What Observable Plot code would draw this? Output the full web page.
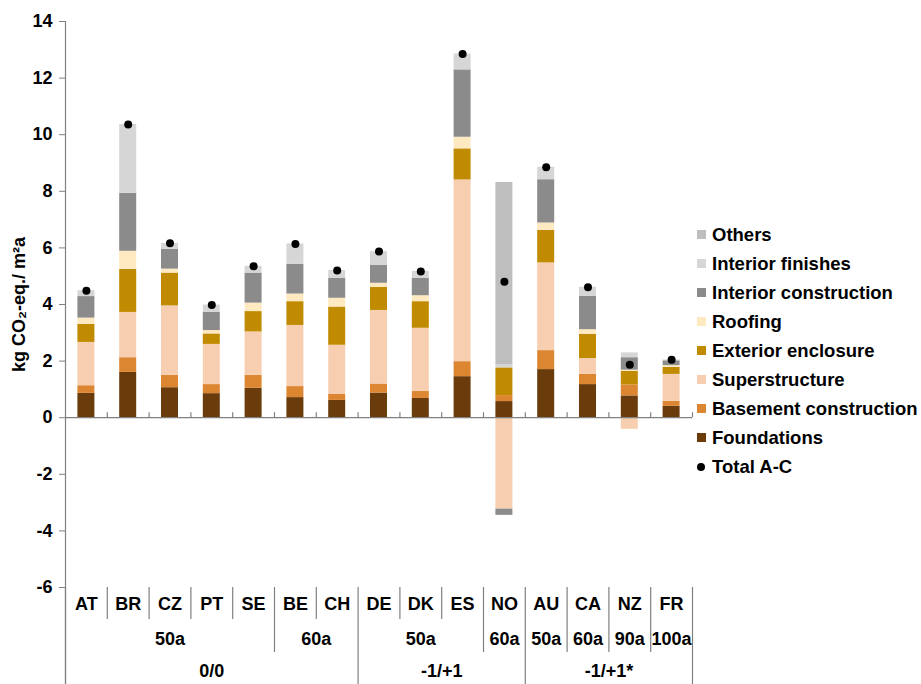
<!DOCTYPE html>
<html><head><meta charset="utf-8">
<script src="https://cdn.jsdelivr.net/npm/d3@7"></script>
<script src="https://cdn.jsdelivr.net/npm/@observablehq/plot@0.6"></script>
<style>
body{margin:0;background:#fff;font-family:"Liberation Sans",Arial,sans-serif;}
#wrap{position:relative;width:921px;height:684px;}
#legend{position:absolute;left:697px;top:220px;font-weight:bold;font-size:18.5px;color:#000;}
.row{height:29px;display:flex;align-items:center;white-space:nowrap;}
.sw{width:9px;height:9px;margin-right:6px;flex:none;}
.dotsw{width:8px;height:8px;border-radius:50%;background:#000;margin-right:7px;flex:none;}
</style></head><body><div id="wrap"></div>
<script>
// ---- data ----
const countries = ["AT","BR","CZ","PT","SE","BE","CH","DE","DK","ES","NO","AU","CA","NZ","FR"];
const lifetimes = ["50a","50a","50a","50a","50a","60a","60a","50a","50a","50a","60a","50a","60a","90a","100a"];
const scenarios = ["0/0","0/0","0/0","0/0","0/0","0/0","0/0","-1/+1","-1/+1","-1/+1","-1/+1","-1/+1*","-1/+1*","-1/+1*","-1/+1*"];

const components = ["Foundations","Basement construction","Superstructure","Exterior enclosure","Roofing","Interior construction","Interior finishes","Others"];
const componentColors = ["#6b3c0b","#dd8632","#f7cfb0","#c08b00","#ffe9c0","#8b8b8b","#d6d6d6","#bebebe"];

const foundations          = [0.86,1.60,1.06,0.85,1.04,0.71,0.61,0.87,0.68,1.45,0.57,1.70,1.17,0.77,0.40];
const basementConstruction = [0.27,0.52,0.44,0.32,0.46,0.39,0.21,0.32,0.25,0.53,0.21,0.67,0.36,0.39,0.18];
const superstructure       = [1.53,1.60,2.45,1.42,1.53,2.16,1.74,2.60,2.23,6.42,-3.23,3.10,0.56,-0.41,0.95];
const exteriorEnclosure    = [0.64,1.52,1.16,0.37,0.72,0.84,1.35,0.81,0.94,1.10,0.98,1.15,0.86,0.48,0.25];
const roofing              = [0.22,0.64,0.14,0.12,0.30,0.27,0.31,0.15,0.21,0.41,0.00,0.26,0.16,0.04,0.06];
const interiorConstruction = [0.76,2.05,0.70,0.64,1.06,1.05,0.71,0.63,0.62,2.38,-0.22,1.53,1.18,0.44,0.17];
const interiorFinishes     = [0.21,2.43,0.21,0.26,0.24,0.72,0.27,0.49,0.24,0.56,0.12,0.44,0.32,0.17,0.03];
const others               = [0,0,0,0,0,0,0,0,0,0,6.43,0,0,0,0];
const totalAC              = [4.49,10.36,6.16,3.98,5.35,6.14,5.20,5.87,5.17,12.85,4.80,8.85,4.61,1.87,2.05];

const yDomain = [-6, 14];
const yTicks = [-6,-4,-2,0,2,4,6,8,10,12,14];
const yLabel = "kg CO\u2082-eq./ m\u00b2a";
const totalLabel = "Total A-C";

// ---- build tables ----
const series = [foundations, basementConstruction, superstructure, exteriorEnclosure, roofing, interiorConstruction, interiorFinishes, others];
const rows = [];
components.forEach((c, k) => series[k].forEach((v, i) => { if (v !== 0) rows.push({i, country: countries[i], component: c, value: v}); }));
const totals = countries.map((c, i) => ({i, country: c, total: totalAC[i]}));
const cats = countries.map((c, i) => ({i, country: c}));

function runs(keyFn, labelFn) {
  const out = [];
  countries.forEach((c, i) => {
    const k = keyFn(i);
    if (out.length && out[out.length - 1].key === k) out[out.length - 1].end = i + 1;
    else out.push({key: k, label: labelFn(i), start: i, end: i + 1});
  });
  return out;
}
const lvl2 = runs(i => scenarios[i] + "|" + lifetimes[i], i => lifetimes[i]);
const lvl3 = runs(i => scenarios[i], i => scenarios[i]);

// separators below the frame, by level
const b3 = new Set([0, ...lvl3.map(r => r.end)]);
const b2 = new Set(lvl2.map(r => r.start).filter(s => !b3.has(s)));
const sep1 = [], sep2 = [], sep3 = [];
for (let x = 0; x <= countries.length; x++) {
  (b3.has(x) ? sep3 : b2.has(x) ? sep2 : sep1).push(x);
}
const zeroTicks = d3.range(1, countries.length + 1);

const axisColor = "#808080";
const W = 921, H = 684, mL = 65, mR = 229, mT = 21, mB = 97;
const FS = 18;
const bottom = () => yDomain[0];

const plot = Plot.plot({
  width: W, height: H,
  marginLeft: mL, marginRight: mR, marginTop: mT, marginBottom: mB,
  style: {fontFamily: "'Liberation Sans', Arial, sans-serif", fontSize: FS + "px", fontWeight: "bold", background: "white", color: "black", overflow: "visible"},
  x: {domain: [0, countries.length], axis: null},
  y: {domain: yDomain, axis: null},
  color: {domain: components, range: componentColors},
  marks: [
    Plot.rectY(rows, {x1: "i", x2: d => d.i + 1, y: "value", fill: "component", insetLeft: 12.4, insetRight: 12.4}),
    Plot.ruleY([0], {stroke: axisColor, strokeWidth: 1.2}),
    Plot.ruleX(zeroTicks, {x: d => d, y1: () => 0, y2: () => 0, insetTop: -5, stroke: axisColor, strokeWidth: 1.2}),
    Plot.ruleX([0], {x: d => d, insetBottom: -mB, stroke: axisColor, strokeWidth: 1.2}),
    Plot.ruleX(sep1, {x: d => d, y1: bottom, y2: bottom, insetBottom: -32, stroke: axisColor, strokeWidth: 1.2}),
    Plot.ruleX(sep2, {x: d => d, y1: bottom, y2: bottom, insetBottom: -65, stroke: axisColor, strokeWidth: 1.2}),
    Plot.ruleX(sep3, {x: d => d, y1: bottom, y2: bottom, insetBottom: -mB, stroke: axisColor, strokeWidth: 1.2}),
    Plot.dot(totals, {x: d => d.i + 0.5, y: "total", r: 4, fill: "black", stroke: "none"}),
    Plot.axisY(yTicks, {anchor: "left", tickSize: 6, tickPadding: 7, tickFormat: d => String(d), stroke: axisColor, fill: "black", fontSize: FS, fontWeight: "bold", label: null}),
    Plot.text([yLabel], {text: d => d, frameAnchor: "left", textAnchor: "middle", rotate: -90, dx: -46, fontSize: FS, fontWeight: "bold", fill: "black"}),
    Plot.text(cats, {x: d => d.i + 0.5, text: "country", frameAnchor: "bottom", dy: 22, fontSize: FS, fontWeight: "bold", fill: "black"}),
    Plot.text(lvl2, {x: d => (d.start + d.end) / 2, text: "label", frameAnchor: "bottom", dy: 57, fontSize: FS, fontWeight: "bold", fill: "black"}),
    Plot.text(lvl3, {x: d => (d.start + d.end) / 2, text: "label", frameAnchor: "bottom", dy: 89, fontSize: FS, fontWeight: "bold", fill: "black"})
  ]
});
document.getElementById("wrap").appendChild(plot);

// legend
const legend = d3.select("#wrap").append("div").attr("id", "legend");
const legendItems = components.map((c, k) => ({name: c, color: componentColors[k]})).reverse();
legendItems.forEach(it => {
  const r = legend.append("div").attr("class", "row");
  r.append("div").attr("class", "sw").style("background", it.color);
  r.append("span").text(it.name);
});
const tr = legend.append("div").attr("class", "row");
tr.append("div").attr("class", "dotsw");
tr.append("span").text(totalLabel);
</script></body></html>
